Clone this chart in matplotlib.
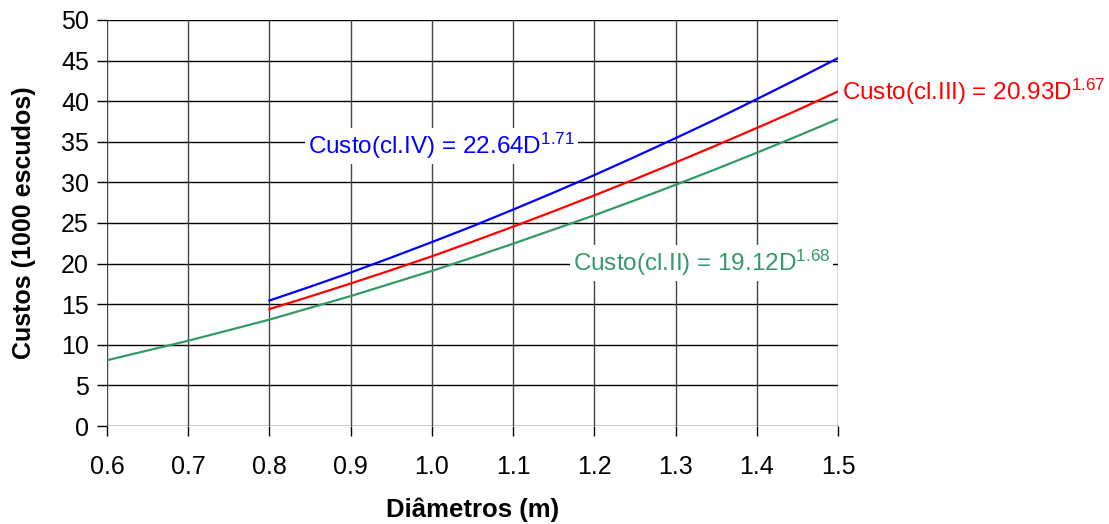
import matplotlib
matplotlib.use("Agg")
import matplotlib.pyplot as plt

plt.rcParams['font.family'] = ['Liberation Sans', 'DejaVu Sans']
plt.rcParams['mathtext.default'] = 'regular'

# Data
d_green = [0.60, 0.65, 0.70, 0.75, 0.80, 0.85, 0.90, 0.95, 1.00, 1.05,
           1.10, 1.15, 1.20, 1.25, 1.30, 1.35, 1.40, 1.45, 1.50]
cost_cl2 = [8.1, 9.3, 10.5, 11.8, 13.1, 14.55, 16.0, 17.55, 19.1, 20.75,
            22.45, 24.2, 25.95, 27.8, 29.7, 31.65, 33.65, 35.7, 37.8]
d_upper = [0.80, 0.85, 0.90, 0.95, 1.00, 1.05, 1.10, 1.15, 1.20, 1.25,
           1.30, 1.35, 1.40, 1.45, 1.50]
cost_cl3 = [14.4, 15.95, 17.55, 19.2, 20.9, 22.7, 24.55, 26.45, 28.4, 30.4,
            32.45, 34.55, 36.7, 38.9, 41.2]
cost_cl4 = [15.45, 17.15, 18.9, 20.75, 22.65, 24.6, 26.65, 28.75, 30.9, 33.15,
            35.45, 37.8, 40.25, 42.75, 45.3]
x_ticks = [0.6, 0.7, 0.8, 0.9, 1.0, 1.1, 1.2, 1.3, 1.4, 1.5]
y_ticks = [0, 5, 10, 15, 20, 25, 30, 35, 40, 45, 50]

GREEN = '#339966'
RED = '#FF0000'
BLUE = '#0000FF'

fig = plt.figure(figsize=(11.09, 5.24), dpi=100)
ax = fig.add_axes([107/1109, 1 - 426/524, (838 - 107)/1109, (426 - 20)/524])

ax.set_xlim(0.6, 1.5)
ax.set_ylim(0, 50)
ax.set_xticks(x_ticks)
ax.set_xticklabels([f'{v:.1f}' for v in x_ticks])
ax.set_yticks(y_ticks)

for y in y_ticks:
    ax.axhline(y, color='black', lw=1.0, zorder=1)
for x in x_ticks:
    ax.axvline(x, color='#444444', lw=1.0, zorder=1)

for s in ax.spines.values():
    s.set_visible(False)

ax.tick_params(axis='both', direction='out', length=7, width=1, color='black',
               labelsize=18)
ax.tick_params(axis='x', pad=14)
ax.tick_params(axis='y', pad=6)

ax.plot(d_green, cost_cl2, color=GREEN, lw=1.6, zorder=3)
ax.plot(d_upper, cost_cl3, color=RED, lw=1.6, zorder=3)
ax.plot(d_upper, cost_cl4, color=BLUE, lw=1.6, zorder=3)

ax.set_xlabel('Diâmetros (m)', fontsize=18.5, fontweight='bold', labelpad=13)
ax.set_ylabel('Custos (1000 escudos)', fontsize=18, fontweight='bold', labelpad=18)

bbox = dict(facecolor='white', edgecolor='none', pad=2)
fig.text(308/1109, 1 - 146/524, r'Custo(cl.IV) = 22.64D$^{1.71}$', color=BLUE,
         fontsize=17.5, va='center', ha='left', bbox=bbox, zorder=5)
fig.text(842/1109, 1 - 92/524, r'Custo(cl.III) = 20.93D$^{1.67}$', color=RED,
         fontsize=17.5, va='center', ha='left', bbox=bbox, zorder=5)
fig.text(573/1109, 1 - 263/524, r'Custo(cl.II) = 19.12D$^{1.68}$', color=GREEN,
         fontsize=17.5, va='center', ha='left', bbox=bbox, zorder=5)

fig.savefig('out.png', dpi=100)
